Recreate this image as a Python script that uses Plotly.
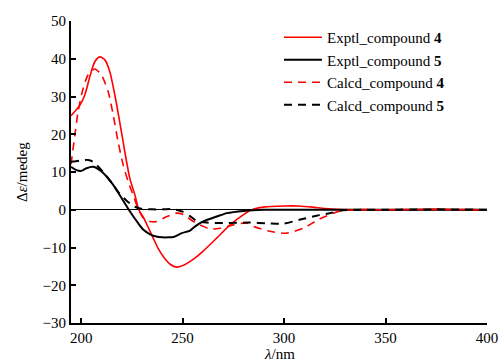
import plotly.graph_objects as go

# ---- data ----
exptl4_x = [195, 199.4, 201.8, 204.3, 206.7, 209.2, 211.7, 214.1, 216.6, 219.0, 221.5, 224.0,
            226.5, 228.4, 230.7, 233, 235.5, 238, 241, 244, 247, 250, 255, 260, 266.8, 273.4,
            280, 284, 290, 300, 307, 314, 320, 328, 340, 360, 375, 385, 400]
exptl4_y = [24.9, 27.7, 30.4, 35.3, 39.2, 40.5, 39.7, 36.6, 30.4, 23.3, 15.4, 8.3,
            3.9, 0.0, -2.0, -4.6, -7.5, -10.3, -12.8, -14.5, -15.2, -14.8, -13.2, -11.0, -7.5, -4.0,
            -1.3, 0.0, 0.7, 1.0, 1.0, 0.7, 0.3, 0.05, 0.0, 0.0, 0.1, 0.0, 0.0]

exptl5_x = [195, 197.7, 200.2, 202.6, 205.9, 209.2, 212.5, 215.8, 219.0, 221.5, 223.5, 226, 228,
            230.7, 234, 237, 240, 243, 245.5, 249.6, 253.7, 256.2, 260.2, 266.8, 271.8, 280, 290,
            300, 320, 350, 375, 400]
exptl5_y = [11.4, 10.5, 10.3, 11.0, 11.4, 10.5, 8.8, 6.6, 3.9, 1.7, 0.0, -2.0, -3.5,
            -5.3, -6.5, -7.1, -7.3, -7.3, -7.2, -6.2, -5.5, -4.4, -3.1, -1.8, -0.9, -0.3, 0.0,
            0.0, 0.0, 0.0, 0.0, 0.0]

calcd4_x = [195, 196.9, 198.5, 201, 203.4, 206.7, 210, 213.3, 215.8, 218.2, 220.7, 223.2, 225.6,
            228, 230.7, 234, 237.3, 242.2, 247.1, 250.4, 255.3, 260.2, 263.5, 268.5, 275,
            281.6, 284.9, 293, 301.3, 309.5, 316.9, 324.3, 327.6, 335, 350, 375, 400]
calcd4_y = [12.0, 19.8, 26.0, 32.2, 35.7, 37.3, 35.7, 31.3, 25.1, 18.0, 11.9, 7.4, 3.9,
            0.4, -2.2, -3.1, -3.1, -1.8, -0.9, -1.3, -3.1, -4.4, -5.1, -4.9, -4.0,
            -3.5, -4.4, -5.7, -6.2, -4.9, -2.6, -0.9, -0.3, 0.0, 0.0, 0.1, 0.0]

calcd5_x = [195, 199, 203.4, 205.9, 210, 213, 216, 219, 222, 224, 226.5, 230, 235, 240, 245,
            250, 254, 257, 262, 270, 283, 292, 299.5, 308, 316, 323.5, 328, 335, 350, 375, 400]
calcd5_y = [12.7, 13.0, 13.2, 12.7, 10.5, 8.6, 6.4, 4.2, 2.6, 1.7, 0.8, 0.2, 0.1, 0.1, 0.2,
            -0.5, -1.8, -3.0, -3.4, -3.5, -3.4, -3.6, -3.7, -2.6, -1.6, -0.8, -0.2, 0.0, 0.0, 0.1, 0.0]

names = ["Exptl_compound <b>4</b>", "Exptl_compound <b>5</b>",
         "Calcd_compound <b>4</b>", "Calcd_compound <b>5</b>"]

x_ticks = [200, 250, 300, 350, 400]
y_ticks = [-30, -20, -10, 0, 10, 20, 30, 40, 50]

FONT = "Liberation Serif"

fig = go.Figure()
series = [
    (exptl4_x, exptl4_y, names[0], "#ff0000", "solid", 1.6),
    (exptl5_x, exptl5_y, names[1], "#000000", "solid", 2.0),
    (calcd4_x, calcd4_y, names[2], "#ff0000", "8px,6px", 1.6),
    (calcd5_x, calcd5_y, names[3], "#000000", "8px,6px", 2.0),
]
for xs, ys, nm, col, dash, w in series:
    fig.add_trace(go.Scatter(
        x=xs, y=ys, name=nm, mode="lines",
        line=dict(color=col, width=w, dash=dash, shape="spline", smoothing=0.7),
    ))

fig.update_layout(
    width=499, height=364,
    margin=dict(l=71, r=12, t=21, b=41),
    paper_bgcolor="white", plot_bgcolor="white",
    font=dict(family=FONT, size=15, color="black"),
    showlegend=True,
    legend=dict(x=0.5, y=1.0, xanchor="left", yanchor="top",
                bgcolor="rgba(0,0,0,0)", font=dict(family=FONT, size=15, color="black"),
                tracegroupgap=0, itemwidth=38),
    annotations=[
        dict(text="<i>λ</i>/nm", xref="paper", yref="paper", x=0.5, y=0,
             xanchor="center", yanchor="top", yshift=-21, showarrow=False,
             font=dict(family=FONT, size=15, color="black")),
        dict(text="Δ<i>ε</i>/medeg", xref="paper", yref="paper", x=0, y=0.5,
             xanchor="center", yanchor="middle", xshift=-49, textangle=-90, showarrow=False,
             font=dict(family=FONT, size=15, color="black")),
    ],
)

fig.update_xaxes(
    range=[195, 400], tickmode="array", tickvals=x_ticks, ticktext=[str(v) for v in x_ticks],
    ticks="inside", ticklen=5, tickwidth=1.5, tickcolor="black", automargin=False,
    showline=True, linecolor="black", linewidth=2, showgrid=False, zeroline=False,
    tickfont=dict(family=FONT, size=15, color="black"),
)
fig.update_yaxes(
    range=[-30, 50], tickmode="array", tickvals=y_ticks,
    ticktext=[("\u2212" + str(-v)) if v < 0 else str(v) for v in y_ticks],
    ticks="inside", ticklen=5, tickwidth=1.5, tickcolor="black", automargin=False,
    showline=True, linecolor="black", linewidth=2, showgrid=False,
    zeroline=True, zerolinecolor="black", zerolinewidth=1.3,
    tickfont=dict(family=FONT, size=15, color="black"),
)

# remove the default 8px page margin so the figure fills the window exactly
fig.write_html("out.html", config={"displayModeBar": False},
               post_script="document.body.style.margin='0';document.body.style.overflow='hidden';")
